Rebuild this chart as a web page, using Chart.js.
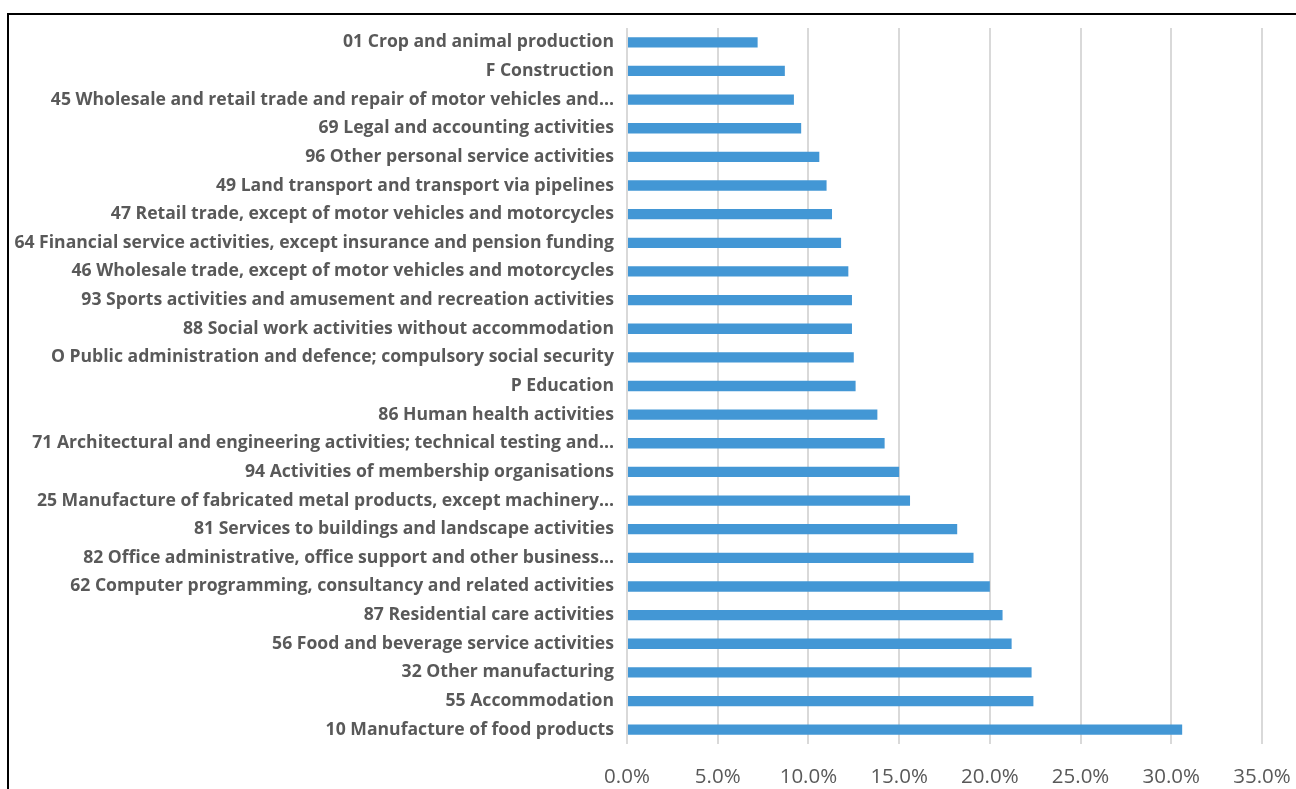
<!DOCTYPE html>
<html>
<head>
<meta charset="utf-8">
<script src="https://cdn.jsdelivr.net/npm/chart.js@4"></script>
<style>
	body { margin: 0; background: #fff; }
	.frame {
		position: absolute;
		left: 7px;
		top: 13px;
		width: 1300px;
		height: 800px;
		border: 2px solid #000;
	}
	#myChart { position: absolute; left: 0; top: 0; }
</style>
</head>
<body>
<div class="frame"></div>
<canvas id="myChart" width="1296" height="789"></canvas>
<script>
// categories, top to bottom
var categories = [
	'01 Crop and animal production',
	'F Construction',
	'45 Wholesale and retail trade and repair of motor vehicles and…',
	'69 Legal and accounting activities',
	'96 Other personal service activities',
	'49 Land transport and transport via pipelines',
	'47 Retail trade, except of motor vehicles and motorcycles',
	'64 Financial service activities, except insurance and pension funding',
	'46 Wholesale trade, except of motor vehicles and motorcycles',
	'93 Sports activities and amusement and recreation activities',
	'88 Social work activities without accommodation',
	'O Public administration and defence; compulsory social security',
	'P Education',
	'86 Human health activities',
	'71 Architectural and engineering activities; technical testing and…',
	'94 Activities of membership organisations',
	'25 Manufacture of fabricated metal products, except machinery…',
	'81 Services to buildings and landscape activities',
	'82 Office administrative, office support and other business…',
	'62 Computer programming, consultancy and related activities',
	'87 Residential care activities',
	'56 Food and beverage service activities',
	'32 Other manufacturing',
	'55 Accommodation',
	'10 Manufacture of food products',
];

// share, in percent
var shares = [
	7.2, 8.7, 9.2, 9.6, 10.6, 11.0, 11.3, 11.8, 12.2, 12.4, 12.4, 12.5, 12.6,
	13.8, 14.2, 15.0, 15.6, 18.2, 19.1, 20.0, 20.7, 21.2, 22.3, 22.4, 30.6,
];

var xTicks = [0, 5, 10, 15, 20, 25, 30, 35];

var ctx = document.getElementById('myChart').getContext('2d');

var myBarChart = new Chart(ctx, {
	type: 'bar',
	data: {
		labels: categories,
		datasets: [
			{
				data: shares,
				backgroundColor: '#4397d5',
				borderWidth: 0,
				barPercentage: 0.36,
				categoryPercentage: 1,
			},
		],
	},
	options: {
		indexAxis: 'y',
		responsive: false,
		animation: false,
		layout: {
			padding: { top: 28, right: 34, bottom: 0, left: 0 },
		},
		plugins: {
			legend: { display: false },
			tooltip: { enabled: false },
		},
		scales: {
			x: {
				min: xTicks[0],
				max: xTicks[xTicks.length - 1],
				afterFit: function (scale) {
					scale.height = 45;
					// keep the plot edge where the reference has it
					scale.paddingLeft = 0;
					scale.paddingRight = 0;
				},
				afterBuildTicks: function (scale) {
					scale.ticks = xTicks.map(function (v) {
						return { value: v };
					});
				},
				ticks: {
					padding: 21,
					color: '#595959',
					font: { family: 'Open Sans', size: 20.5 },
					callback: function (value) {
						return value.toFixed(1) + '%';
					},
				},
				border: { display: false },
				grid: {
					color: '#d9d9d9',
					lineWidth: 2,
					drawTicks: false,
				},
			},
			y: {
				afterFit: function (scale) {
					scale.width = 627;
				},
				ticks: {
					autoSkip: false,
					padding: 13,
					color: '#595959',
					font: { family: 'Open Sans', size: 17.6, weight: 'bold' },
				},
				border: { display: false },
				grid: { display: false, drawTicks: false },
			},
		},
	},
});
</script>
</body>
</html>
